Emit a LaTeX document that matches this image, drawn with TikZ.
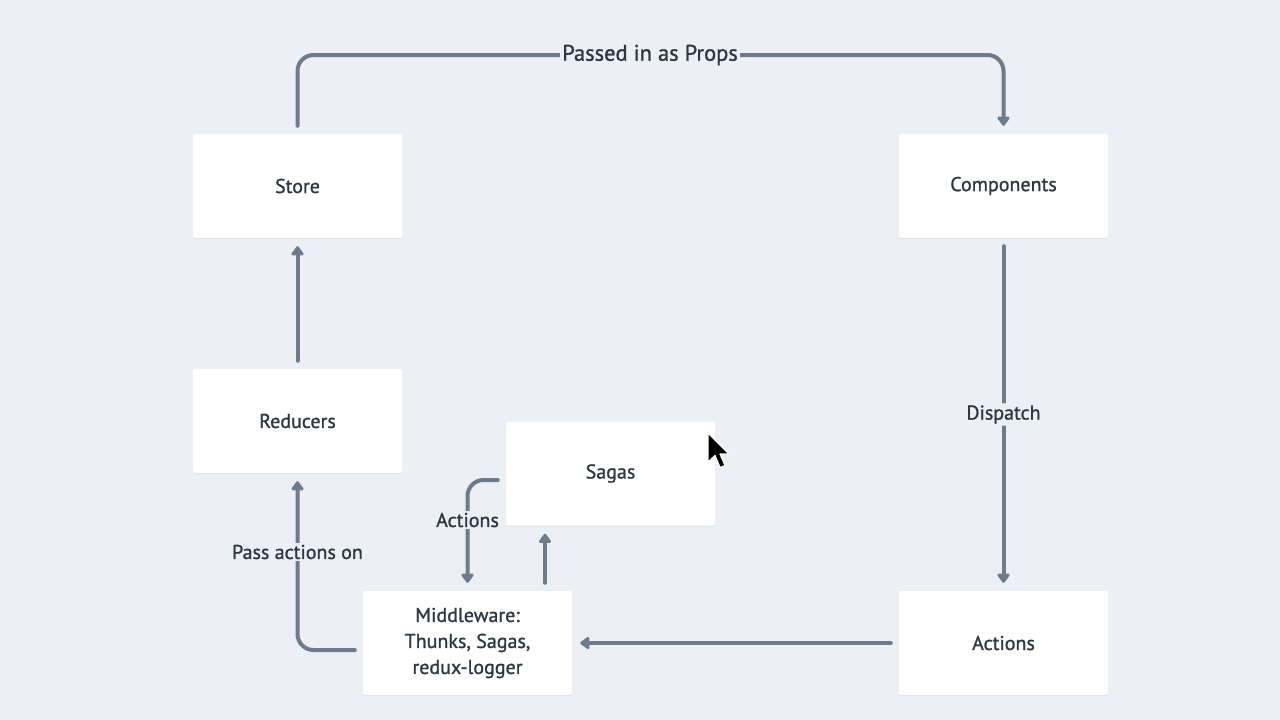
\documentclass[tikz,border=0pt]{standalone}
\usepackage{fontspec}
\setmainfont{PT Sans}[FakeBold=1.1]
\usetikzlibrary{arrows.meta,shadows}
\definecolor{bg}{HTML}{ECEFF4}
\definecolor{ln}{HTML}{6E7B8B}
\definecolor{tx}{HTML}{2E3742}
\tikzset{
  box/.style={fill=white, minimum width=209pt, minimum height=104pt, rounded corners=2pt,
    text=tx, font=\fontsize{20}{26}\selectfont, align=center, inner sep=0pt,
    drop shadow={shadow xshift=0pt, shadow yshift=-1pt, fill=black, opacity=0.06}},
  arr/.style={draw=ln, line width=4pt, rounded corners=16pt, line cap=round,
    -{Triangle[width=14pt,length=10pt,round=false]}},
  lbl/.style={fill=bg, text=tx, font=\fontsize{20}{26}\selectfont, inner sep=2pt},
  biglbl/.style={lbl, font=\fontsize{22.5}{26}\selectfont}
}
\begin{document}
\begin{tikzpicture}[x=1pt,y=-1pt]
\fill[bg] (0,0) rectangle (1280,720);
\useasboundingbox (0,0) rectangle (1280,720);
\node[box] (store) at (297.5,186) {Store};
\node[box] (comp) at (1003.5,186) {Components};
\node[box] (red) at (297.5,421) {Reducers};
\node[box] (sagas) at (610.5,473.5) {Sagas};
\node[box] (mid) at (467.5,643) {Middleware:\\Thunks, Sagas,\\redux-logger};
\node[box] (act) at (1003.5,643) {Actions};
\coordinate (top) at (650,55);
\draw[arr] ([yshift=8pt]store.north) |- (top) -| ([yshift=8pt]comp.north);
\node[biglbl] (plbl) at (top) {Passed in as Props};
\draw[arr] ([yshift=-8pt]comp.south) -- node[lbl] {Dispatch} ([yshift=8pt]act.north);
\draw[arr] ([xshift=-8pt]act.west) -- ([xshift=8pt]mid.east);
\draw[arr] ([xshift=-8pt,yshift=-7pt]mid.west) -| ([yshift=-8pt]red.south);
\node[lbl] (palbl) at (297.5,552) {Pass actions on};
\draw[arr] ([yshift=8pt]red.north) -- ([yshift=-8pt]store.south);
\draw[arr] ([xshift=-8pt,yshift=-6.5pt]sagas.west) -| ([yshift=8pt]mid.north);
\node[lbl] (albl) at (467.5,520) {Actions};
\draw[arr] ([xshift=77.5pt,yshift=8pt]mid.north) -- ([xshift=-65.5pt,yshift=-8pt]sagas.south);
% cursor
\draw[fill=black, draw=white, line width=1.2pt, line join=round]
  (708,433) -- (708,462) -- (715,455.5) -- (720,467.5) -- (725,465.5) -- (720,454) -- (729,454) -- cycle;
\end{tikzpicture}
\end{document}
